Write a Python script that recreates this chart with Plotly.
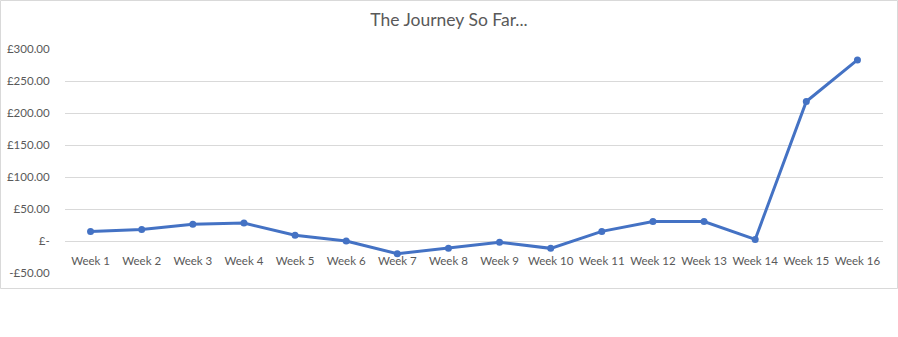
import plotly.graph_objects as go

weeks = [f"Week {i}" for i in range(1, 17)]
values = [15, 18, 26, 28, 9, 0, -20, -11.5, -2, -11.5, 15, 30.5, 30.5, 2.5, 218, 283]
ytick_vals = [-50, 0, 50, 100, 150, 200, 250, 300]
ytick_text = ["-£50.00", "£-", "£50.00", "£100.00", "£150.00", "£200.00", "£250.00", "£300.00"]

W, H = 898, 337
L, R, T, B = 65, 15, 49, 64
pw, ph = W - L - R, H - T - B
ymin, ymax = -50, 300

def px_to_paper_x(px):
    return (px - L) / pw

def px_to_paper_y(py):
    return (H - B - py) / ph

fig = go.Figure()
fig.add_trace(go.Scatter(
    x=weeks, y=values, mode="lines+markers",
    line=dict(color="#4472C4", width=3),
    marker=dict(color="#4472C4", size=7),
    hoverinfo="skip",
))

fig.update_layout(
    width=W, height=H,
    margin=dict(l=L, r=R, t=T, b=B, autoexpand=False),
    paper_bgcolor="white", plot_bgcolor="white",
    showlegend=False,
    font=dict(family="Lato, sans-serif", color="#595959", size=12),
    title=dict(text="The Journey So Far...", x=449 / W, xref="container", xanchor="center",
               y=1 - 20 / H, yref="container", yanchor="middle",
               font=dict(family="Lato, sans-serif", size=17.5, color="#595959")),
    xaxis=dict(
        type="category", range=[-0.5, 15.5], showgrid=False, zeroline=False, showline=False,
        anchor="free", position=(0 - ymin) / (ymax - ymin), automargin=False,
        ticks="outside", ticklen=9, tickcolor="rgba(0,0,0,0)",
        tickfont=dict(size=11.5, color="#595959"),
    ),
    yaxis=dict(
        range=[ymin, ymax], tickvals=ytick_vals, ticktext=ytick_text, automargin=False,
        showgrid=True, gridcolor="#D9D9D9", gridwidth=1,
        zeroline=False, showline=False,
        ticks="outside", ticklen=12, tickcolor="rgba(0,0,0,0)",
        tickfont=dict(size=11.5, color="#595959"),
    ),
    shapes=[dict(
        type="rect", xref="paper", yref="paper",
        x0=px_to_paper_x(0.5), x1=px_to_paper_x(897.5),
        y0=px_to_paper_y(288.5), y1=px_to_paper_y(0.5),
        line=dict(color="#D9D9D9", width=1), fillcolor="rgba(0,0,0,0)", layer="below",
    )],
)

fig.write_html("out.html")
